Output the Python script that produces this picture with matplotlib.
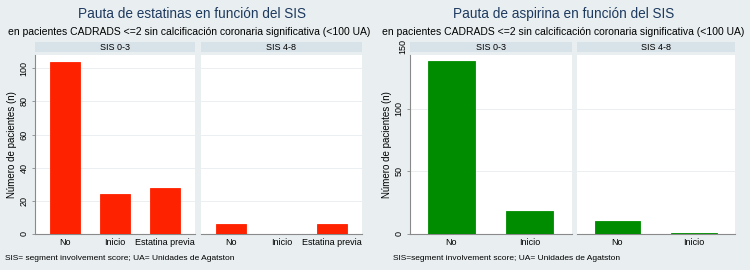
import matplotlib.pyplot as plt

plt.rcParams['font.family'] = ['Liberation Sans', 'DejaVu Sans']

# Datos
grupos = ['SIS 0-3', 'SIS 4-8']
cat_estatinas = ['No', 'Inicio', 'Estatina previa']
estatinas = [[104, 24, 28], [6, 0, 6]]
cat_aspirina = ['No', 'Inicio']
aspirina = [[138, 18], [10, 1]]

bg = '#e9eff1'
strip_c = '#d8e3e9'
titulo_c = '#1e3a5f'
rojo = '#ff2200'
verde = '#008c00'

fig = plt.figure(figsize=(7.5, 2.7), dpi=100, facecolor=bg)
W, H = 750, 270


def fx(px):
    return px / W


def fy(py):
    return 1 - py / H


def panel(x0, x1, cats, vals, color, ymax, yticks, xlim, label, show_y):
    ax = fig.add_axes([fx(x0), fy(234), fx(x1 - x0), (234 - 55) / H])
    ax.set_facecolor('white')
    ax.bar(range(len(cats)), vals, width=0.6, color=color,
           edgecolor=color, linewidth=0.6, zorder=3)
    ax.set_xlim(*xlim)
    ax.set_ylim(0, ymax)
    ax.set_yticks(yticks)
    ax.set_xticks(range(len(cats)))
    ax.set_xticklabels(cats, fontsize=6.5)
    ax.grid(axis='y', color='#e8edf0', linewidth=0.6, zorder=0)
    for s in ['top', 'right']:
        ax.spines[s].set_visible(False)
    ax.spines['bottom'].set_color('#8a8a8a')
    ax.spines['bottom'].set_linewidth(0.8)
    ax.tick_params(axis='x', length=0, pad=3)
    if show_y:
        ax.spines['left'].set_color('#8a8a8a')
        ax.spines['left'].set_linewidth(0.8)
        ax.tick_params(axis='y', length=2.5, width=0.6, color='#8a8a8a',
                       labelsize=6.5, pad=2)
        for t in ax.get_yticklabels():
            t.set_rotation(90)
            t.set_va('center')
        ax.set_ylabel('Número de pacientes (n)', fontsize=7, labelpad=2)
    else:
        ax.spines['left'].set_visible(False)
        ax.tick_params(axis='y', length=0, labelleft=False)
    # tira superior
    sax = fig.add_axes([fx(x0), fy(52), fx(x1 - x0), 10 / H])
    sax.set_facecolor(strip_c)
    sax.set_xticks([])
    sax.set_yticks([])
    for s in sax.spines.values():
        s.set_visible(False)
    sax.text(0.5, 0.5, label, ha='center', va='center', fontsize=6.5,
             transform=sax.transAxes)
    return ax


# Estatinas
for i, (x0, x1) in enumerate([(35, 195), (201, 362)]):
    panel(x0, x1, cat_estatinas, estatinas[i], rojo, 108, [0, 20, 40, 60, 80, 100],
          (-0.6, 2.6), grupos[i], i == 0)

# Aspirina
for i, (x0, x1) in enumerate([(410, 572), (577, 735)]):
    ax = panel(x0, x1, cat_aspirina, aspirina[i], verde, 143, [0, 50, 100],
               (-0.53, 1.54), grupos[i], i == 0)
    if i == 0:
        ax.text(-0.045, 150, '150', rotation=90, ha='center', va='center',
                fontsize=6.5, transform=ax.get_yaxis_transform(), clip_on=False)

fig.text(fx(192), fy(14), 'Pauta de estatinas en función del SIS', ha='center',
         va='center', fontsize=9.8, color=titulo_c)
fig.text(fx(189), fy(32), 'en pacientes CADRADS <=2 sin calcificación coronaria significativa (<100 UA)',
         ha='center', va='center', fontsize=7.5)
fig.text(fx(564), fy(14), 'Pauta de aspirina en función del SIS', ha='center',
         va='center', fontsize=9.8, color=titulo_c)
fig.text(fx(563), fy(32), 'en pacientes CADRADS <=2 sin calcificación coronaria significativa (<100 UA)',
         ha='center', va='center', fontsize=7.5)

fig.text(fx(5), fy(258), 'SIS= segment involvement score; UA= Unidades de Agatston',
         ha='left', va='center', fontsize=6)
fig.text(fx(393), fy(258), 'SIS=segment involvement score; UA= Unidades de Agatston',
         ha='left', va='center', fontsize=6)

fig.savefig('out.png', dpi=100, facecolor=bg)
